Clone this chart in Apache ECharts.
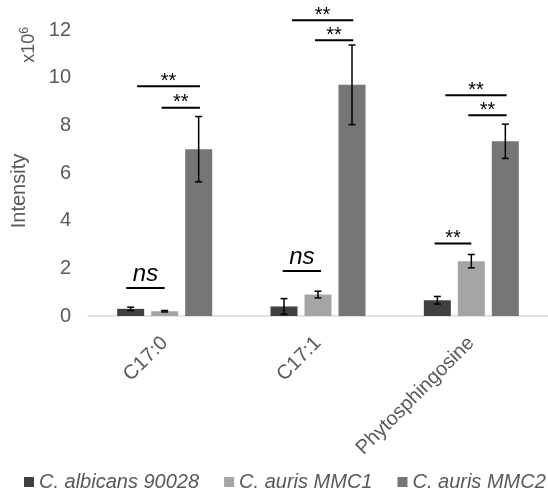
<!DOCTYPE html>
<html>
<head>
<meta charset="utf-8">
<script src="https://cdn.jsdelivr.net/npm/echarts@6/dist/echarts.min.js"></script>
<style>
html,body{margin:0;padding:0;background:#fff;}
#chart{width:548px;height:492px;}
</style>
</head>
<body>
<div id="chart"></div>
<script>
// ---- data ----
var categories = ['C17:0', 'C17:1', 'Phytosphingosine'];
var seriesNames = ['C. albicans 90028', 'C. auris MMC1', 'C. auris MMC2'];
var albicans = [0.30, 0.40, 0.66];
var mmc1 = [0.20, 0.90, 2.30];
var mmc2 = [7.00, 9.70, 7.33];
var albicansErr = [0.07, 0.33, 0.16];
var mmc1Err = [0.03, 0.14, 0.28];
var mmc2Err = [1.37, 1.67, 0.72];
var yTicks = [0, 2, 4, 6, 8, 10, 12];
// significance brackets (x in category units, y in intensity units)
var sigX1 = [-0.25, -0.18, -0.02, 0.77, 0.83, 0.98, 1.76, 1.83, 1.98];
var sigX2 = [0.00, 0.23, 0.23, 1.02, 1.23, 1.23, 2.00, 2.23, 2.23];
var sigY = [1.18, 9.64, 8.74, 1.89, 12.41, 11.57, 3.04, 9.26, 8.42];
var sigText = ['ns', '**', '**', 'ns', '**', '**', '**', '**', '**'];

// ---- style ----
var FONT = "'Liberation Sans', Arial, sans-serif";
var TXT = '#595959';
var colors = ['#404040', '#a5a5a5', '#767676'];
var BAR_W = 27, BAR_GAP = 7;

var values = [albicans, mmc1, mmc2];
var errs = [albicansErr, mmc1Err, mmc2Err];

var errData = [];
for (var s = 0; s < 3; s++) {
  for (var c = 0; c < categories.length; c++) {
    errData.push([c, values[s][c], errs[s][c], s]);
  }
}
var sigData = sigX1.map(function (x1, i) { return [x1, sigX2[i], sigY[i], i]; });

var barSeries = seriesNames.map(function (name, s) {
  return {
    name: name, type: 'bar', xAxisIndex: 0, yAxisIndex: 0,
    data: values[s], barWidth: BAR_W, barGap: (BAR_GAP / BAR_W * 100) + '%',
    itemStyle: { color: colors[s] }, z: 2
  };
});

var chart = echarts.init(document.getElementById('chart'), null, { renderer: 'canvas' });
chart.setOption({
  animation: false,
  color: colors,
  grid: { left: 88, right: -6.5, top: 30, bottom: 176, containLabel: false },
  legend: {
    data: seriesNames, left: 24, top: 472, padding: 0, width: 700,
    icon: 'rect', itemWidth: 10, itemHeight: 10, itemGap: 25,
    textStyle: { fontFamily: FONT, fontSize: 20, fontStyle: 'italic', color: TXT }
  },
  xAxis: [{
    type: 'category', data: categories,
    axisLine: { show: true, lineStyle: { color: '#d9d9d9', width: 1.5 } },
    axisTick: { show: false },
    axisLabel: { rotate: 45, interval: 0, margin: 24, fontFamily: FONT, fontSize: 20, color: TXT }
  }, {
    type: 'value', min: -0.5, max: 2.5, show: false
  }],
  yAxis: [{
    type: 'value', min: yTicks[0], max: yTicks[yTicks.length - 1], interval: 2,
    axisLine: { show: false }, axisTick: { show: false }, splitLine: { show: false },
    axisLabel: { margin: 17, fontFamily: FONT, fontSize: 20, color: TXT }
  }],
  graphic: [{
    type: 'text', x: 19, y: 191, rotation: Math.PI / 2,
    style: { text: 'Intensity', font: '20px ' + FONT, fill: TXT, align: 'center', verticalAlign: 'middle' }
  }, {
    type: 'text', x: 29, y: 45, rotation: Math.PI / 2,
    style: {
      text: '{a|x10}{b|6}', align: 'center', verticalAlign: 'middle',
      rich: {
        a: { fontFamily: FONT, fontSize: 18, fill: TXT },
        b: { fontFamily: FONT, fontSize: 12, fill: TXT, padding: [0, 0, 9, 0] }
      }
    }
  }],
  series: barSeries.concat([{
    type: 'custom', name: 'err', xAxisIndex: 0, yAxisIndex: 0, z: 5,
    data: errData, encode: { x: 0, y: 1 }, clip: false,
    renderItem: function (params, api) {
      var c = api.value(0), v = api.value(1), e = api.value(2), s = api.value(3);
      var base = api.coord([c, v]);
      var x = base[0] + (s - 1) * (BAR_W + BAR_GAP);
      var yt = api.coord([c, v + e])[1];
      var yb = api.coord([c, v - e])[1];
      var st = { stroke: '#000', lineWidth: 1.5 };
      return { type: 'group', children: [
        { type: 'line', shape: { x1: x, y1: yt, x2: x, y2: yb }, style: st },
        { type: 'line', shape: { x1: x - 3.5, y1: yt, x2: x + 3.5, y2: yt }, style: st },
        { type: 'line', shape: { x1: x - 3.5, y1: yb, x2: x + 3.5, y2: yb }, style: st }
      ] };
    }
  }, {
    type: 'custom', name: 'sig', xAxisIndex: 1, yAxisIndex: 0, z: 6,
    data: sigData, encode: { x: 0, y: 2 }, clip: false,
    renderItem: function (params, api) {
      var i = api.value(3);
      var p1 = api.coord([api.value(0), api.value(2)]);
      var p2 = api.coord([api.value(1), api.value(2)]);
      var t = sigText[i];
      var isNs = t === 'ns';
      return { type: 'group', children: [
        { type: 'line', shape: { x1: p1[0], y1: p1[1], x2: p2[0], y2: p2[1] }, style: { stroke: '#000', lineWidth: 2 } },
        { type: 'text', x: (p1[0] + p2[0]) / 2, y: p1[1] - (isNs ? 14 : 5),
          style: { text: t, fill: '#000', align: 'center', verticalAlign: 'middle',
            font: (isNs ? 'italic 24px ' : '20px ') + FONT } }
      ] };
    }
  }])
});
</script>
</body>
</html>
